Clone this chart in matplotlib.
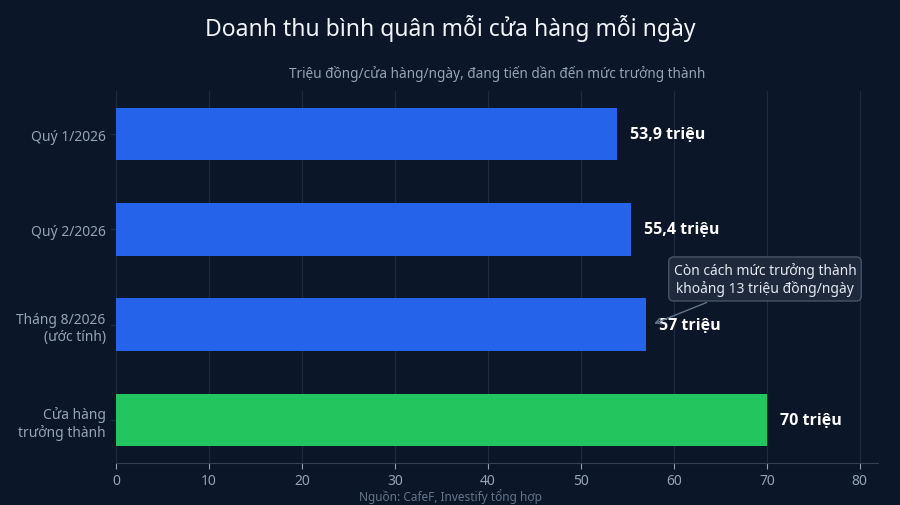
import matplotlib
matplotlib.use('Agg')
import matplotlib.pyplot as plt

plt.rcParams['font.family'] = ['Noto Sans', 'DejaVu Sans']

categories = ['Quý 1/2026', 'Quý 2/2026', 'Tháng 8/2026\n(ước tính)', 'Cửa hàng\ntrưởng thành']
values = [53.9, 55.4, 57.0, 70.0]
value_labels = ['53,9 triệu', '55,4 triệu', '57 triệu', '70 triệu']
bar_colors = ['#2563eb', '#2563eb', '#2563eb', '#22c55e']
x_ticks = [0, 10, 20, 30, 40, 50, 60, 70, 80]

BG = '#0b1628'
GRID = '#1e2a3d'
MUTED = '#94a3b8'

fig = plt.figure(figsize=(9, 5.06), dpi=100, facecolor=BG)
ax = fig.add_axes([0.129, 0.083, 0.847, 0.735], facecolor=BG)

y = list(range(len(categories)))
ax.barh(y, values, height=0.55, color=bar_colors, zorder=3)
ax.invert_yaxis()
ax.set_yticks(y)
ax.set_yticklabels(categories, color=MUTED, fontsize=10)
ax.set_xticks(x_ticks)
ax.set_xlim(0, 82)
ax.tick_params(axis='x', colors=MUTED, labelsize=10, length=4)
ax.tick_params(axis='y', colors=GRID, labelcolor=MUTED, length=4)
ax.grid(axis='x', color=GRID, linewidth=0.8, zorder=0)
for side in ['top', 'right', 'left']:
    ax.spines[side].set_visible(False)
ax.spines['bottom'].set_color('#334155')

for yi, v, lab in zip(y, values, value_labels):
    ax.text(v + 1.4, yi, lab, va='center', ha='left', color='white',
            fontsize=11.5, fontweight='bold', family=['Open Sans', 'DejaVu Sans'],
            zorder=4)

ax.annotate('Còn cách mức trưởng thành\nkhoảng 13 triệu đồng/ngày',
            xy=(57.6, 2.0), xytext=(69.8, 1.52),
            ha='center', va='center', color='#e2e8f0', fontsize=10,
            bbox=dict(boxstyle='round,pad=0.35', fc='#1e293b', ec='#475569', lw=1),
            arrowprops=dict(arrowstyle='->', color='#64748b', lw=1), zorder=5)

fig.text(0.5, 0.944, 'Doanh thu bình quân mỗi cửa hàng mỗi ngày',
         ha='center', va='center', color='#f1f5f9', fontsize=16.5)
ax.set_title('Triệu đồng/cửa hàng/ngày, đang tiến dần đến mức trưởng thành',
             color=MUTED, fontsize=9.8, pad=10)
fig.text(0.5, 0.018, 'Nguồn: CafeF, Investify tổng hợp',
         ha='center', va='center', color='#64748b', fontsize=8.5)

fig.savefig('out.png', dpi=100, facecolor=BG)
